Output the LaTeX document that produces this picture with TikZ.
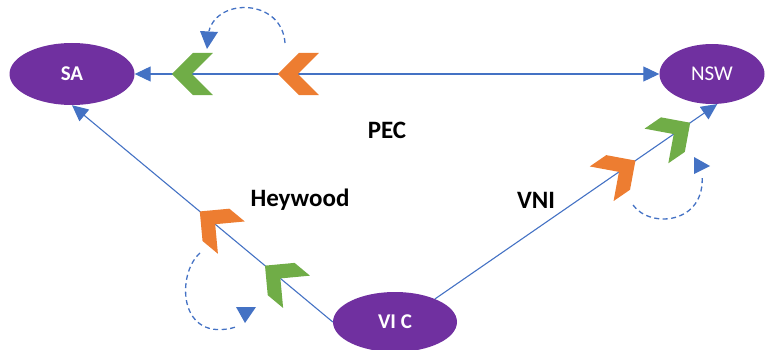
\documentclass[tikz,border=0pt]{standalone}
\usepackage{fontspec}
\setmainfont{Carlito}
\usetikzlibrary{arrows.meta,calc,shapes.geometric}
\definecolor{cpurple}{HTML}{7030A0}
\definecolor{cgreen}{HTML}{70AD47}
\definecolor{corange}{HTML}{ED7D31}
\definecolor{cblue}{HTML}{4472C4}
\begin{document}
\begin{tikzpicture}[x=1pt,y=1pt,
  region/.style={ellipse,fill=cpurple,text=white,inner sep=0pt,font=\fontsize{21}{24}\selectfont},
  link/.style={cblue,line width=1.1pt,-{Triangle[length=16pt,width=15pt]}},
  loopline/.style={cblue,line width=1.3pt,dash pattern=on 5pt off 3.5pt},
  tiphead/.style={fill=cblue},
  lbl/.style={font=\fontsize{25}{28}\selectfont\bfseries},
  chevpath/.style={insert path={(0,0) -- (-21,21) -- (-41,21) -- (-20,0) -- (-41,-21) -- (-21,-21) -- cycle}}
]
\useasboundingbox (0,0) rectangle (774,349);
\node[region,minimum width=125pt,minimum height=62pt] (SA) at (72,275) {\bfseries SA};
\node[region,minimum width=105pt,minimum height=60pt] (NSW) at (712,275) {NSW};
\node[region,minimum width=124pt,minimum height=60pt] (VIC) at (395,27) {\bfseries VI C};

\draw[link,{Triangle[length=16pt,width=15pt]}-{Triangle[length=16pt,width=15pt]}] (SA.east) -- (NSW.west);
\draw[link] (VIC.west) -- (SA.south);
\draw[link] (VIC.30) -- (NSW.-80);

\coordinate (pG) at ($(SA.east)!0.071!(NSW.west)$);
\coordinate (pO) at ($(SA.east)!0.273!(NSW.west)$);
\coordinate (hO) at ($(VIC.west)!0.51!(SA.south)$);
\coordinate (hG) at ($(VIC.west)!0.26!(SA.south)$);
\coordinate (vO) at ($(VIC.30)!0.71!(NSW.-80)$);
\coordinate (vG) at ($(VIC.30)!0.904!(NSW.-80)$);

\fill[cgreen,shift={(pG)},rotate=180,chevpath];
\fill[corange,shift={(pO)},rotate=180,chevpath];
\fill[corange,shift={(hO)},rotate=140.3,chevpath];
\fill[cgreen,shift={(hG)},rotate=140.3,chevpath];
\fill[corange,shift={(vO)},rotate=34.5,chevpath];
\fill[cgreen,shift={(vG)},rotate=34.5,chevpath];

% dashed loops
\draw[loopline] (285,306) .. controls (282,350) and (218,352) .. (209,318);
\fill[tiphead] (200,318) -- (218,317) -- (207,300) -- cycle;
\draw[loopline] (200,96) .. controls (176,75) and (178,5) .. (236,22);
\fill[tiphead] (236,42) -- (256,42) -- (245,26) -- cycle;
\draw[loopline] (633,144) .. controls (650,120) and (706,125) .. (702,174);
\fill[tiphead] (694,192) -- (694,175) -- (710,183) -- cycle;

\node[lbl] (PEC) at (387,219) {PEC};
\node[lbl] (HEY) at (300,149) {Heywood};
\node[lbl] (VNI) at (536,149) {VNI};
\end{tikzpicture}
\end{document}
